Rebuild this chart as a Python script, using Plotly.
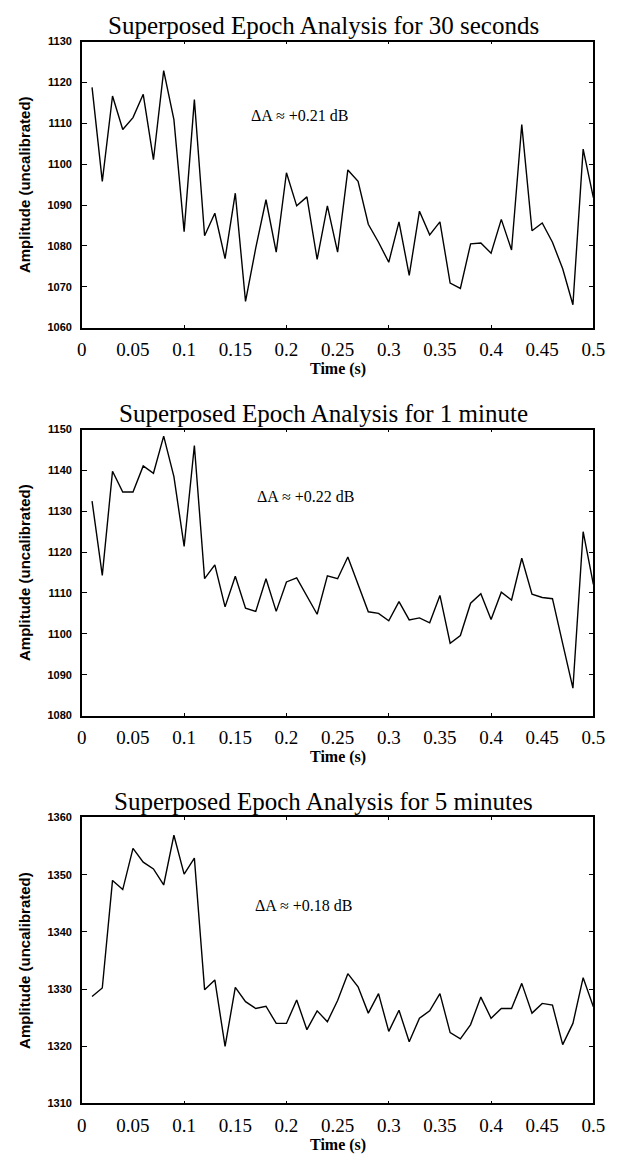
import plotly.graph_objects as go

W, H = 619, 1157

time_s = [0.01, 0.02, 0.03, 0.04, 0.05, 0.06, 0.07, 0.08, 0.09, 0.10,
          0.11, 0.12, 0.13, 0.14, 0.15, 0.16, 0.17, 0.18, 0.19, 0.20,
          0.21, 0.22, 0.23, 0.24, 0.25, 0.26, 0.27, 0.28, 0.29, 0.30,
          0.31, 0.32, 0.33, 0.34, 0.35, 0.36, 0.37, 0.38, 0.39, 0.40,
          0.41, 0.42, 0.43, 0.44, 0.45, 0.46, 0.47, 0.48, 0.49, 0.50]

amp_30s = [1118.8, 1095.8, 1116.7, 1108.5, 1111.4, 1117.1, 1101.1, 1122.9, 1110.9, 1083.5,
           1115.8, 1082.5, 1088.0, 1076.9, 1092.9, 1066.4, 1079.5, 1091.3, 1078.5, 1097.9,
           1089.8, 1092.0, 1076.7, 1089.8, 1078.5, 1098.6, 1095.8, 1085.3, 1080.9, 1076.0,
           1085.9, 1072.8, 1088.5, 1082.7, 1085.9, 1070.9, 1069.6, 1080.5, 1080.7, 1078.2,
           1086.5, 1079.0, 1109.7, 1083.7, 1085.6, 1080.9, 1074.4, 1065.6, 1103.7, 1091.8]

amp_1min = [1132.5, 1114.3, 1139.8, 1134.7, 1134.7, 1141.1, 1139.3, 1148.4, 1138.5, 1121.4,
            1146.1, 1113.5, 1116.9, 1106.6, 1114.1, 1106.3, 1105.5, 1113.5, 1105.5, 1112.7,
            1113.7, 1109.3, 1104.8, 1114.2, 1113.5, 1118.8, 1112.1, 1105.4, 1105.0, 1103.2,
            1107.9, 1103.4, 1103.9, 1102.7, 1109.4, 1097.7, 1099.6, 1107.5, 1109.8, 1103.5,
            1110.2, 1108.3, 1118.5, 1109.7, 1108.9, 1108.6, 1097.6, 1086.7, 1125.0, 1112.1]

amp_5min = [1328.7, 1330.2, 1349.0, 1347.4, 1354.6, 1352.2, 1351.0, 1348.2, 1356.9, 1350.1,
            1352.9, 1329.9, 1331.6, 1320.0, 1330.3, 1327.8, 1326.6, 1327.0, 1324.0, 1324.0,
            1328.1, 1322.9, 1326.2, 1324.3, 1328.0, 1332.7, 1330.4, 1325.8, 1329.2, 1322.6,
            1326.3, 1320.8, 1324.9, 1326.2, 1329.2, 1322.4, 1321.3, 1323.8, 1328.6, 1324.9,
            1326.6, 1326.6, 1331.0, 1325.8, 1327.5, 1327.2, 1320.3, 1324.0, 1332.0, 1326.9]

titles = ["Superposed Epoch Analysis for 30 seconds",
          "Superposed Epoch Analysis for 1 minute",
          "Superposed Epoch Analysis for 5 minutes"]
delta_labels = ["\u0394A \u2248 +0.21 dB", "\u0394A \u2248 +0.22 dB", "\u0394A \u2248 +0.18 dB"]
y_ranges = [[1060, 1130], [1080, 1150], [1310, 1360]]
y_ticks = [[1060, 1070, 1080, 1090, 1100, 1110, 1120, 1130],
           [1080, 1090, 1100, 1110, 1120, 1130, 1140, 1150],
           [1310, 1320, 1330, 1340, 1350, 1360]]
x_ticks = [0, 0.05, 0.1, 0.15, 0.2, 0.25, 0.3, 0.35, 0.4, 0.45, 0.5]
x_tick_text = ["0", "0.05", "0.1", "0.15", "0.2", "0.25", "0.3", "0.35", "0.4", "0.45", "0.5"]
series = [amp_30s, amp_1min, amp_5min]

# layout in pixels
left_px, right_px = 79, 605
tops = [36, 428, 820]
plot_h = 289
delta_pos = [(0.163, 1112.0), (0.169, 1133.5), (0.167, 1344.7)]

def py(p):
    return 1 - p / H

fig = go.Figure()
annotations = []
serif = "Liberation Serif, Times New Roman, serif"
sans = "Liberation Sans, Arial, sans-serif"

for i in range(3):
    n = "" if i == 0 else str(i + 1)
    xa, ya = "x" + n, "y" + n
    fig.add_trace(go.Scatter(x=time_s, y=series[i], mode="lines",
                             line=dict(color="black", width=1.4),
                             xaxis=xa, yaxis=ya, showlegend=False,
                             hoverinfo="skip"))
    top, bot = tops[i], tops[i] + plot_h
    fig.update_layout(**{
        "xaxis" + n: dict(domain=[left_px / W, right_px / W], anchor=ya,
                          range=[0, 0.5], tickvals=x_ticks, ticktext=x_tick_text,
                          ticks="", showline=True, linecolor="black", linewidth=1.5,
                          mirror="ticks", showgrid=False, zeroline=False,
                          tickfont=dict(family=serif, size=19, color="black"),
                          ticklabelstandoff=4,
                          minor=dict(ticks="inside", dtick=0.1, ticklen=3,
                                     tickcolor="black", tickwidth=1, showgrid=False)),
        "yaxis" + n: dict(domain=[py(bot), py(top)], anchor=xa,
                          range=y_ranges[i], tickvals=y_ticks[i],
                          ticks="inside", ticklen=5, tickcolor="black", tickwidth=1,
                          showline=True, linecolor="black", linewidth=1.5,
                          mirror="ticks", showgrid=False, zeroline=False,
                          tickfont=dict(family=sans, size=11, color="black", weight="bold"),
                          ticklabelstandoff=6),
    })
    # title
    annotations.append(dict(text=titles[i], xref="paper", yref="paper",
                            x=(328) / W, y=py(top - 16), xanchor="center", yanchor="middle",
                            showarrow=False,
                            font=dict(family=serif, size=25, color="black")))
    # x-axis title
    annotations.append(dict(text="<b>Time (s)</b>", xref="paper", yref="paper",
                            x=(342) / W, y=py(bot + 42), xanchor="center", yanchor="middle",
                            showarrow=False,
                            font=dict(family=serif, size=16, color="black")))
    # y-axis title
    annotations.append(dict(text="<b>Amplitude (uncalibrated)</b>", xref="paper", yref="paper",
                            x=20 / W, y=py(top + plot_h / 2), xanchor="center", yanchor="middle",
                            textangle=-90, showarrow=False,
                            font=dict(family=sans, size=15, color="black")))
    # delta annotation
    annotations.append(dict(text=delta_labels[i], xref=xa, yref=ya,
                            x=delta_pos[i][0], y=delta_pos[i][1],
                            xanchor="left", yanchor="middle", showarrow=False,
                            font=dict(family=serif, size=16, color="black")))

fig.update_layout(width=W, height=H, margin=dict(l=0, r=0, t=0, b=0),
                  paper_bgcolor="white", plot_bgcolor="white",
                  annotations=annotations, showlegend=False)

fig.write_html("out.html")
